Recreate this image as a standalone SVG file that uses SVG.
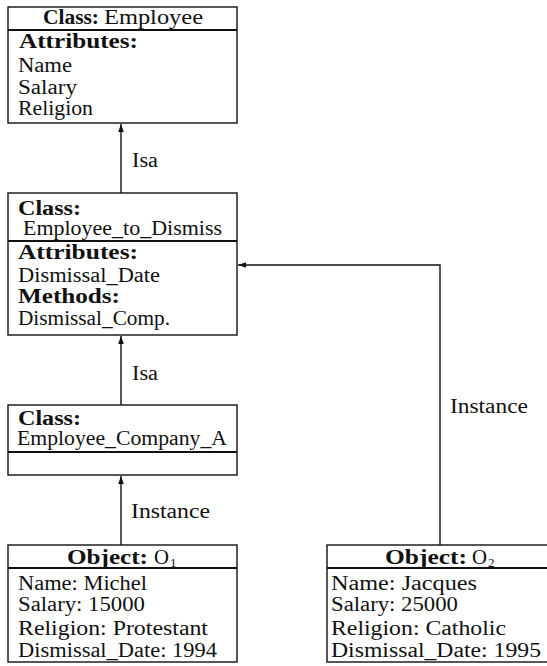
<svg xmlns="http://www.w3.org/2000/svg" width="547" height="666" viewBox="0 0 547 666">
<style>
.box{fill:#fff;stroke:#111;stroke-width:1.4}
.div{stroke:#111;stroke-width:2.2}
.t{font-family:"Liberation Serif","Times New Roman",serif;font-size:20px;fill:#111}
.b{font-weight:bold}
.sub{font-family:"Liberation Serif","Times New Roman",serif;font-size:13px;fill:#111}
.c{fill:none;stroke:#111;stroke-width:1.4}
</style>
<defs>
<marker id="ah" viewBox="0 0 8 8" refX="8" refY="4" markerWidth="8" markerHeight="8" markerUnits="userSpaceOnUse" orient="auto">
<path d="M0,1.2 L8,4 L0,6.8 Z" fill="#111"/>
</marker>
</defs>
<rect width="547" height="666" fill="#fff"/>
<g id="connectors">
<line class="c" x1="121" y1="193" x2="121" y2="124" marker-end="url(#ah)"/>
<text class="t" x="132" y="167" textLength="26" lengthAdjust="spacingAndGlyphs">Isa</text>
<line class="c" x1="121" y1="405" x2="121" y2="336" marker-end="url(#ah)"/>
<text class="t" x="132" y="380" textLength="26" lengthAdjust="spacingAndGlyphs">Isa</text>
<line class="c" x1="121" y1="545" x2="121" y2="476" marker-end="url(#ah)"/>
<text class="t" x="131" y="518" textLength="79" lengthAdjust="spacingAndGlyphs">Instance</text>
<polyline class="c" points="440,545 440,265 238,265" marker-end="url(#ah)"/>
<text class="t" x="450" y="413" textLength="78" lengthAdjust="spacingAndGlyphs">Instance</text>
</g>
<g id="employee">
<rect class="box" x="8" y="7" width="229" height="116"/>
<line class="div" x1="8" y1="30" x2="237" y2="30"/>
<text class="t b" x="43" y="24" textLength="56" lengthAdjust="spacingAndGlyphs">Class:</text>
<text class="t" x="104" y="24" textLength="99" lengthAdjust="spacingAndGlyphs">Employee</text>
<text class="t b" x="19" y="48" textLength="119" lengthAdjust="spacingAndGlyphs">Attributes:</text>
<text class="t" x="18" y="72" textLength="54" lengthAdjust="spacingAndGlyphs">Name</text>
<text class="t" x="18" y="94" textLength="59" lengthAdjust="spacingAndGlyphs">Salary</text>
<text class="t" x="18" y="115" textLength="75" lengthAdjust="spacingAndGlyphs">Religion</text>
</g>
<g id="employee_to_dismiss">
<rect class="box" x="8" y="193" width="229" height="142"/>
<line class="div" x1="8" y1="241" x2="237" y2="241"/>
<text class="t b" x="18" y="215" textLength="63" lengthAdjust="spacingAndGlyphs">Class:</text>
<text class="t" x="23" y="235" textLength="199" lengthAdjust="spacingAndGlyphs">Employee_to_Dismiss</text>
<text class="t b" x="18" y="259" textLength="120" lengthAdjust="spacingAndGlyphs">Attributes:</text>
<text class="t" x="18" y="282" textLength="142" lengthAdjust="spacingAndGlyphs">Dismissal_Date</text>
<text class="t b" x="18" y="303" textLength="102" lengthAdjust="spacingAndGlyphs">Methods:</text>
<text class="t" x="18" y="325" textLength="152" lengthAdjust="spacingAndGlyphs">Dismissal_Comp.</text>
</g>
<g id="employee_company_a">
<rect class="box" x="8" y="405" width="229" height="70"/>
<line class="div" x1="8" y1="452" x2="237" y2="452"/>
<text class="t b" x="18" y="425" textLength="63" lengthAdjust="spacingAndGlyphs">Class:</text>
<text class="t" x="17" y="445" textLength="210" lengthAdjust="spacingAndGlyphs">Employee_Company_A</text>
</g>
<g id="object_o1">
<rect class="box" x="8" y="545" width="229" height="117"/>
<line class="div" x1="8" y1="568" x2="237" y2="568"/>
<text class="t b" x="67" y="564" textLength="81" lengthAdjust="spacingAndGlyphs">Object:</text>
<text class="t" x="154" y="564" textLength="15" lengthAdjust="spacingAndGlyphs">O</text>
<text class="sub" x="170" y="567">1</text>
<text class="t" x="18" y="590" textLength="129" lengthAdjust="spacingAndGlyphs">Name: Michel</text>
<text class="t" x="18" y="611" textLength="127" lengthAdjust="spacingAndGlyphs">Salary: 15000</text>
<text class="t" x="18" y="635" textLength="190" lengthAdjust="spacingAndGlyphs">Religion: Protestant</text>
<text class="t" x="18" y="657" textLength="199" lengthAdjust="spacingAndGlyphs">Dismissal_Date: 1994</text>
</g>
<g id="object_o2">
<rect class="box" x="327" y="545" width="240" height="117"/>
<line class="div" x1="327" y1="568" x2="567" y2="568"/>
<text class="t b" x="385" y="564" textLength="82" lengthAdjust="spacingAndGlyphs">Object:</text>
<text class="t" x="472" y="564" textLength="15" lengthAdjust="spacingAndGlyphs">O</text>
<text class="sub" x="488" y="567">2</text>
<text class="t" x="331" y="590" textLength="146" lengthAdjust="spacingAndGlyphs">Name: Jacques</text>
<text class="t" x="331" y="611" textLength="127" lengthAdjust="spacingAndGlyphs">Salary: 25000</text>
<text class="t" x="331" y="635" textLength="175" lengthAdjust="spacingAndGlyphs">Religion: Catholic</text>
<text class="t" x="331" y="657" textLength="210" lengthAdjust="spacingAndGlyphs">Dismissal_Date: 1995</text>
</g>
</svg>
